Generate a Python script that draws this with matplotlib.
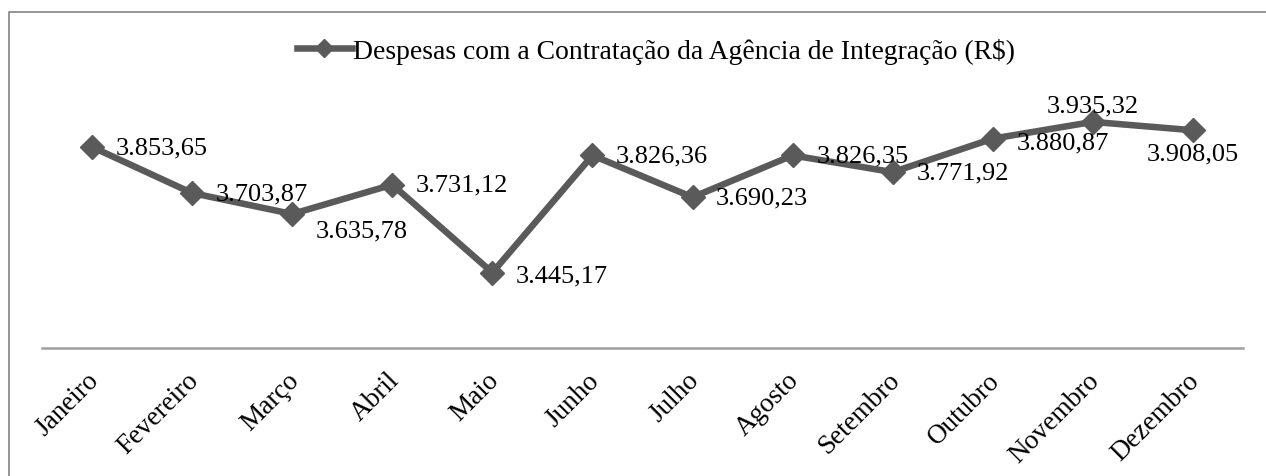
import matplotlib.pyplot as plt
from matplotlib.lines import Line2D
from matplotlib.transforms import ScaledTranslation

# dados
meses = ['Janeiro', 'Fevereiro', 'Março', 'Abril', 'Maio', 'Junho', 'Julho',
         'Agosto', 'Setembro', 'Outubro', 'Novembro', 'Dezembro']
despesas = [3853.65, 3703.87, 3635.78, 3731.12, 3445.17, 3826.36, 3690.23,
            3826.35, 3771.92, 3880.87, 3935.32, 3908.05]
rotulos = ['3.853,65', '3.703,87', '3.635,78', '3.731,12', '3.445,17', '3.826,36',
           '3.690,23', '3.826,35', '3.771,92', '3.880,87', '3.935,32', '3.908,05']
serie = 'Despesas com a Contratação da Agência de Integração (R$)'

plt.rcParams['font.family'] = ['Liberation Serif', 'DejaVu Serif']
cor = '#5a5a5a'
W, H = 1266, 477

fig = plt.figure(figsize=(W / 100, H / 100), dpi=100)
ax = fig.add_axes([42 / W, 1 - 349 / H, (1243 - 42) / W, (349 - 103) / H])

x = range(len(meses))
linha, = ax.plot(x, despesas, color=cor, lw=4.7, marker='D', ms=12.5,
                 solid_joinstyle='miter', label=serie)

# posição dos rótulos (deslocamento em pontos)
desloc = [(17, 0, 'left', 'center'), (17, 0, 'left', 'center'),
          (17, -12, 'left', 'center'), (17, 0, 'left', 'center'),
          (17, -2, 'left', 'center'), (17, 0, 'left', 'center'),
          (17, 0, 'left', 'center'), (17, 0, 'left', 'center'),
          (17, 0, 'left', 'center'), (17, -3, 'left', 'center'),
          (0, 4, 'center', 'bottom'), (0, -9, 'center', 'top')]
for i, (v, t) in enumerate(zip(despesas, rotulos)):
    dx, dy, ha, va = desloc[i]
    ax.annotate(t, (i, v), xytext=(dx, dy), textcoords='offset points',
                ha=ha, va=va, fontsize=19, color='black')

ax.set_xlim(-0.5, len(meses) - 0.5)
ax.set_ylim(3200, 4000)
ax.set_xticks(list(x))
ax.set_xticklabels(meses, rotation=45, ha='right', rotation_mode='anchor',
                   fontsize=19.5)
ax.tick_params(axis='x', length=0, pad=14)
desl = ScaledTranslation(-6 / 100, 0, fig.dpi_scale_trans)
for lb in ax.get_xticklabels():
    lb.set_transform(lb.get_transform() + desl)
ax.set_yticks([])
for s in ['top', 'left', 'right']:
    ax.spines[s].set_visible(False)
ax.spines['bottom'].set_color('#a0a0a0')
ax.spines['bottom'].set_linewidth(1.8)

fig.legend(handles=[linha], loc='center', bbox_to_anchor=(656 / W, 1 - 52 / H),
           frameon=False, fontsize=19.9, handlelength=2.0, handletextpad=0.05,
           markerscale=0.75)

# moldura
x0, y1 = 9 / W, 1 - 13 / H
fig.add_artist(Line2D([x0, x0, 1], [0, y1, y1], transform=fig.transFigure,
                      color='#8c8c8c', lw=1.3))

fig.savefig('out.png', dpi=100)
